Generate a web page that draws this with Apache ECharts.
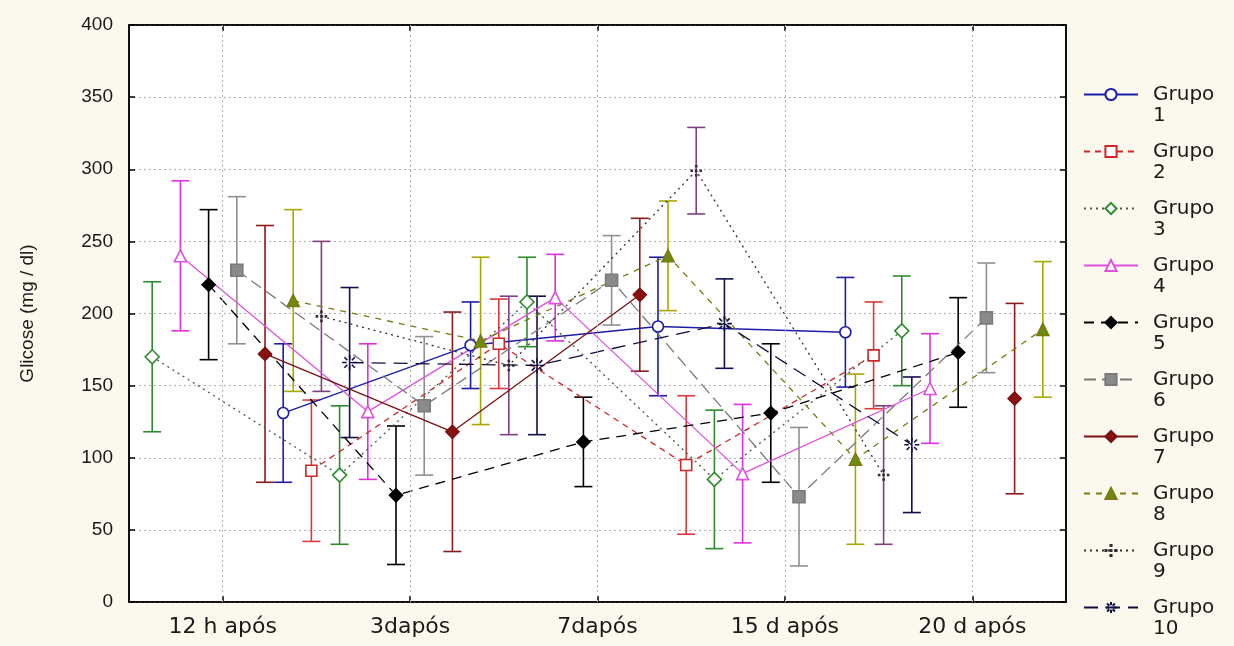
<!DOCTYPE html>
<html>
<head>
<meta charset="utf-8">
<script src="https://cdn.jsdelivr.net/npm/echarts@6/dist/echarts.min.js"></script>
<style>
html,body{margin:0;padding:0;background:#fbf8ee;}
#chart{width:1234px;height:646px;}
</style>
</head>
<body>
<div id="chart"></div>
<script>
// ---- data ----
const categories = ['12 h após', '3dapós', '7dapós', '15 d após', '20 d após'];
const groupNames = ['Grupo 1','Grupo 2','Grupo 3','Grupo 4','Grupo 5','Grupo 6','Grupo 7','Grupo 8','Grupo 9','Grupo 10'];
const yTicks = [0, 50, 100, 150, 200, 250, 300, 350, 400];

// means per group, one value per category (null = not visible in the picture)
const meanG1  = [null, 131, 178, 191, 187];
const meanG2  = [null,  91, 179,  95, 171];
const meanG3  = [170,   88, 208,  85, 188];
const meanG4  = [240,  132, 211,  89, 148];
const meanG5  = [220,   74, 111, 131, 173];
const meanG6  = [230,  136, 223,  73, 197];
const meanG7  = [172,  118, 213, null, 141];
const meanG8  = [209,  181, 240,  99, 189];
const meanG9  = [198,  164, 299,  88, null];
const meanG10 = [166,  164, 193, 109, null];

// half-width of the error bars
const errG1  = [null, 48, 30, 48, 38];
const errG2  = [null, 49, 31, 48, 37];
const errG3  = [52,   48, 31, 48, 38];
const errG4  = [52,   47, 30, 48, 38];
const errG5  = [52,   48, 31, 48, 38];
const errG6  = [51,   48, 31, 48, 38];
const errG7  = [89,   83, 53, null, 66];
const errG8  = [63,   58, 38, 59, 47];
const errG9  = [52,   48, 30, 48, null];
const errG10 = [52,   48, 31, 47, null];

const means = [meanG1, meanG2, meanG3, meanG4, meanG5, meanG6, meanG7, meanG8, meanG9, meanG10];
const errs  = [errG1, errG2, errG3, errG4, errG5, errG6, errG7, errG8, errG9, errG10];

// ---- styles ----
const GROUP_STEP = 0.1505;
const starPath = 'path://M10,0L10,6M10,14L10,20M0,10L6,10M14,10L20,10M3,3L7,7M13,13L17,17M17,3L13,7M7,13L3,17';
const dotsPath = 'path://M9,0h2v2h-2zM9,18h2v2h-2zM0,9h2v2h-2zM18,9h2v2h-2zM9,9h2v2h-2z';
const styles = [
  {color:'#1c1ca8', bar:'#1c1ca8', type:'solid', symbol:'circle', size:11, fill:'#ffffff'},
  {color:'#d02828', bar:'#e03838', type:[6,5], symbol:'rect', size:11, fill:'#ffffff'},
  {color:'#4a5a4a', bar:'#2e8b2e', type:[2,4], symbol:'diamond', size:14, fill:'#ffffff', border:'#2e8b2e'},
  {color:'#e050e0', bar:'#e030e0', type:'solid', symbol:'triangle', size:12, fill:'#ffffff'},
  {color:'#000000', bar:'#000000', type:[10,7], symbol:'diamond', size:13, fill:'#000000'},
  {color:'#7a7a7a', bar:'#909090', type:[12,6], symbol:'rect', size:12, fill:'#8a8a8a'},
  {color:'#7a1010', bar:'#8b1a1a', type:'solid', symbol:'diamond', size:13, fill:'#8b1010'},
  {color:'#7a7a10', bar:'#a8a800', type:[6,6], symbol:'triangle', size:12, fill:'#6e8a10'},
  {color:'#303030', bar:'#804080', type:[2,4], symbol:dotsPath, size:10, fill:'#303030'},
  {color:'#101040', bar:'#101050', type:[14,8], symbol:starPath, size:15, fill:'#ffffff'}
];

const series = [];
groupNames.forEach((name, g) => {
  const off = (g - 4.5) * GROUP_STEP;
  const st = styles[g];
  const lineData = means[g].map((v, i) => [i + off, v]);
  const barData = [];
  means[g].forEach((v, i) => {
    if (v !== null && errs[g][i] !== null) barData.push([i + off, v - errs[g][i], v + errs[g][i]]);
  });
  series.push({
    type: 'custom',
    name: 'eb' + g,
    xAxisIndex: 0, yAxisIndex: 0,
    z: 2,
    silent: true,
    encode: {x: 0, y: [1, 2]},
    data: barData,
    renderItem: function (params, api) {
      const x = api.value(0), lo = api.value(1), hi = api.value(2);
      const a = api.coord([x, lo]), b = api.coord([x, hi]);
      const w = 9;
      const s = {stroke: st.bar, lineWidth: 1.6, fill: null};
      return {type: 'group', children: [
        {type: 'line', shape: {x1: a[0], y1: a[1], x2: b[0], y2: b[1]}, style: s},
        {type: 'line', shape: {x1: a[0] - w, y1: a[1], x2: a[0] + w, y2: a[1]}, style: s},
        {type: 'line', shape: {x1: b[0] - w, y1: b[1], x2: b[0] + w, y2: b[1]}, style: s}
      ]};
    }
  });
  series.push({
    type: 'line',
    name: name,
    xAxisIndex: 0, yAxisIndex: 0,
    z: 4,
    data: lineData,
    connectNulls: false,
    symbol: st.symbol,
    symbolSize: st.size,
    showSymbol: true,
    animation: false,
    lineStyle: {color: st.color, width: 1.3, type: st.type},
    itemStyle: {color: st.fill, borderColor: st.border || st.color, borderWidth: 1.6, opacity: 1}
  });
});

// vertical dotted grid lines at the category centres
series.push({
  type: 'line', name: 'vgrid', xAxisIndex: 0, yAxisIndex: 0, data: [], silent: true,
  markLine: {
    silent: true, symbol: 'none', label: {show: false},
    lineStyle: {color: '#b0b0b0', type: [2, 3], width: 1},
    data: categories.map((c, i) => ({xAxis: i}))
  }
});

const chart = echarts.init(document.getElementById('chart'));
chart.setOption({
  animation: false,
  backgroundColor: '#fbf8ee',
  textStyle: {fontFamily: 'Liberation Sans, Arial, sans-serif'},
  grid: {left: 129, right: 168, top: 25, bottom: 44, show: true, backgroundColor: '#ffffff', borderColor: '#000', borderWidth: 1.5, containLabel: false},
  xAxis: [
    {type: 'value', min: -0.5, max: 4.5, show: false},
    {type: 'category', data: categories, position: 'bottom', boundaryGap: true,
     axisLine: {show: true, onZero: false, lineStyle: {color: '#000', width: 1.5}},
     axisTick: {show: true, inside: true, alignWithLabel: true, length: 6, lineStyle: {color: '#000', width: 1.5}},
     axisLabel: {color: '#1a1a1a', fontSize: 22, margin: 14, fontFamily: 'DejaVu Sans, Liberation Sans, sans-serif'},
     splitLine: {show: false}},
    {type: 'category', data: categories, position: 'top', boundaryGap: true,
     axisLine: {show: true, onZero: false, lineStyle: {color: '#000', width: 1.5}},
     axisTick: {show: true, inside: true, alignWithLabel: true, length: 6, lineStyle: {color: '#000', width: 1.5}},
     axisLabel: {show: false}, splitLine: {show: false}}
  ],
  yAxis: [
    {type: 'value', min: 0, max: 400, interval: 50, position: 'left',
     name: 'Glicose (mg / dl)', nameLocation: 'middle', nameGap: 92, nameRotate: 90,
     nameTextStyle: {color: '#1a1a1a', fontSize: 19},
     axisLine: {show: true, onZero: false, lineStyle: {color: '#000', width: 1.5}},
     axisTick: {show: true, inside: true, length: 6, lineStyle: {color: '#000', width: 1.5}},
     axisLabel: {color: '#1a1a1a', fontSize: 19, margin: 16, formatter: v => yTicks.includes(v) ? String(v) : ''},
     splitLine: {show: true, lineStyle: {color: '#b0b0b0', type: [2, 3], width: 1}}},
    {type: 'value', min: 0, max: 400, interval: 50, position: 'right',
     axisLine: {show: true, onZero: false, lineStyle: {color: '#000', width: 1.5}},
     axisTick: {show: true, inside: true, length: 6, lineStyle: {color: '#000', width: 1.5}},
     axisLabel: {show: false}, splitLine: {show: false}}
  ],
  legend: {
    data: groupNames,
    orient: 'vertical',
    left: 1083, top: 63, height: 700,
    padding: 0,
    itemWidth: 54, itemHeight: 14,
    itemGap: -6,
    selectedMode: false,
    formatter: n => ' \n' + n.replace(' ', '\n'),
    textStyle: {color: '#1a1a1a', fontSize: 20, lineHeight: 21, padding: [0, 0, 0, 10], fontFamily: 'DejaVu Sans, Liberation Sans, sans-serif'}
  },
  series: series
});
</script>
</body>
</html>
